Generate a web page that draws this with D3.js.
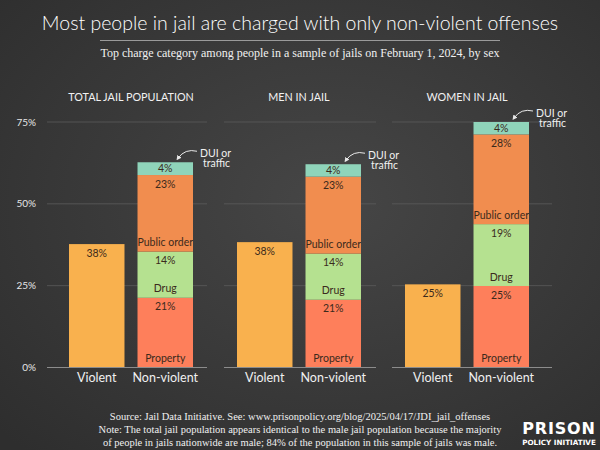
<!DOCTYPE html>
<html>
<head>
<meta charset="utf-8">
<script src="https://cdn.jsdelivr.net/npm/d3@7"></script>
<style>
html,body{margin:0;padding:0;background:#3a3a3a;}
svg{display:block;}
</style>
</head>
<body>
<svg id="chart" width="600" height="450"></svg>
<script>
// ---- data ----
const panels = ["TOTAL JAIL POPULATION", "MEN IN JAIL", "WOMEN IN JAIL"];
const barCategories = ["Violent", "Non-violent"];
const violent = [37.7, 38.3, 25.4];
const property = [21.3, 20.7, 24.9];
const drug = [14.1, 14.1, 18.9];
const publicOrder = [23.4, 23.5, 27.4];
const duiTraffic = [3.9, 3.8, 3.8];
const violentLabels = ["38%", "38%", "25%"];
const propertyLabels = ["21%", "21%", "25%"];
const drugLabels = ["14%", "14%", "19%"];
const publicOrderLabels = ["23%", "23%", "28%"];
const duiLabels = ["4%", "4%", "4%"];
const segmentNames = ["Property", "Drug", "Public order", ""];
const yTicks = [0, 25, 50, 75];

// ---- layout ----
const W = 600, H = 450;
const svg = d3.select("#chart");
const defs = svg.append("defs");
const grad = defs.append("radialGradient").attr("id", "bg")
  .attr("cx", "55%").attr("cy", "45%").attr("r", "75%");
grad.append("stop").attr("offset", "0%").attr("stop-color", "#464646");
grad.append("stop").attr("offset", "100%").attr("stop-color", "#2e2e2e");
svg.append("rect").attr("width", W).attr("height", H).attr("fill", "url(#bg)");

defs.append("marker").attr("id", "arrow").attr("viewBox", "0 0 10 10")
  .attr("refX", 5).attr("refY", 5).attr("markerWidth", 5).attr("markerHeight", 5)
  .attr("orient", "auto-start-reverse")
  .append("path").attr("d", "M0,0 L10,5 L0,10 z").attr("fill", "#e8e8e8");

const sans = "'Century Gothic','URW Gothic','Lato',sans-serif";
const serif = "'Liberation Serif','Times New Roman',serif";

// title
svg.append("text").attr("x", 300).attr("y", 30).attr("text-anchor", "middle")
  .attr("fill", "#ffffff").attr("font-family", sans).attr("font-weight", 300).attr("font-size", 19.5)
  .text("Most people in jail are charged with only non-violent offenses");
svg.append("line").attr("x1", 100).attr("x2", 500).attr("y1", 40.5).attr("y2", 40.5)
  .attr("stroke", "#9a9a9a").attr("stroke-width", 1);
svg.append("text").attr("x", 300).attr("y", 57).attr("text-anchor", "middle")
  .attr("fill", "#f0f0f0").attr("font-family", serif).attr("font-size", 12)
  .text("Top charge category among people in a sample of jails on February 1, 2024, by sex");

// scales
const y = d3.scaleLinear().domain([0, 75]).range([367.5, 122]);
const panelX = d3.scalePoint().domain(panels).range([69, 405]);
const x = d3.scaleBand().domain(barCategories).range([0, 124]).paddingInner(0.19).paddingOuter(0);
const gridExtent = [[-22, 138], [-13, 139], [-13, 147]];

// y tick labels
svg.append("g").selectAll("text").data(yTicks).join("text")
  .attr("x", 36).attr("y", d => y(d)).attr("dy", "0.35em").attr("text-anchor", "end")
  .attr("fill", "#e6e6e6").attr("font-family", sans).attr("font-size", 10)
  .text(d => d + "%");

const colors = {
  violent: "#F9B14E",
  property: "#FE7F5B",
  drug: "#B5E190",
  publicOrder: "#F18D4F",
  dui: "#8FD4BA"
};
const textDark = "#3b2a1c";

panels.forEach((p, i) => {
  const g = svg.append("g").attr("transform", `translate(${panelX(p)},0)`);
  // gridlines
  g.append("g").selectAll("line").data(yTicks.filter(t => t > 0)).join("line")
    .attr("x1", gridExtent[i][0]).attr("x2", gridExtent[i][1])
    .attr("y1", d => y(d)).attr("y2", d => y(d))
    .attr("stroke", "#5c5c5c").attr("stroke-width", 0.8);
  // header
  g.append("text").attr("x", 62).attr("y", 101).attr("text-anchor", "middle")
    .attr("fill", "#f2f2f2").attr("font-family", sans).attr("font-size", 10.8)
    .text(p);

  // violent bar
  const vx = x("Violent"), bw = x.bandwidth();
  g.append("rect").attr("x", vx).attr("width", bw)
    .attr("y", y(violent[i])).attr("height", y(0) - y(violent[i]))
    .attr("fill", colors.violent);
  g.append("text").attr("x", vx + bw / 2).attr("y", y(violent[i]) + 9).attr("dy", "0.35em")
    .attr("text-anchor", "middle").attr("fill", textDark).attr("font-family", sans).attr("font-size", 10.5)
    .text(violentLabels[i]);

  // stacked non-violent
  const segs = [
    {v: property[i], c: colors.property, lab: propertyLabels[i], name: segmentNames[0]},
    {v: drug[i], c: colors.drug, lab: drugLabels[i], name: segmentNames[1]},
    {v: publicOrder[i], c: colors.publicOrder, lab: publicOrderLabels[i], name: segmentNames[2]},
    {v: duiTraffic[i], c: colors.dui, lab: duiLabels[i], name: segmentNames[3]}
  ];
  let cum = 0;
  segs.forEach(s => { s.y0 = cum; cum += s.v; s.y1 = cum; });
  const nx = x("Non-violent");
  g.append("g").selectAll("rect").data(segs).join("rect")
    .attr("x", nx).attr("width", bw)
    .attr("y", d => y(d.y1)).attr("height", d => y(d.y0) - y(d.y1))
    .attr("fill", d => d.c);
  g.append("g").selectAll("text").data(segs).join("text")
    .attr("x", nx + bw / 2)
    .attr("y", (d, k) => k === 3 ? (y(d.y1) + y(d.y0)) / 2 : y(d.y1) + 9)
    .attr("dy", "0.35em").attr("text-anchor", "middle")
    .attr("fill", textDark).attr("font-family", sans).attr("font-size", 10.5)
    .text(d => d.lab);
  g.append("g").selectAll("text").data(segs.filter(s => s.name)).join("text")
    .attr("x", nx + bw / 2)
    .attr("y", d => y(d.y0) - 9)
    .attr("dy", "0.35em").attr("text-anchor", "middle")
    .attr("fill", textDark).attr("font-family", sans).attr("font-size", 10.5)
    .text(d => d.name);

  // baseline
  g.append("line").attr("x1", gridExtent[i][0]).attr("x2", gridExtent[i][1])
    .attr("y1", y(0)).attr("y2", y(0)).attr("stroke", "#8c8c8c").attr("stroke-width", 1);

  // x labels
  g.append("g").selectAll("text").data(barCategories).join("text")
    .attr("x", d => x(d) + bw / 2).attr("y", 382).attr("text-anchor", "middle")
    .attr("fill", "#f0f0f0").attr("font-family", sans).attr("font-size", 12.5)
    .text(d => d);

  // DUI annotation
  const bx = nx + bw, top = y(cum);
  g.append("path")
    .attr("d", `M${bx + 4},${top - 11} Q${bx - 8},${top - 14} ${bx - 15},${top - 4}`)
    .attr("fill", "none").attr("stroke", "#e8e8e8").attr("stroke-width", 1)
    .attr("marker-end", "url(#arrow)");
  const t = g.append("text").attr("x", bx + 7).attr("y", top - 9)
    .attr("fill", "#f0f0f0").attr("font-family", sans).attr("font-size", 10.5);
  t.append("tspan").attr("x", bx + 7).attr("dy", "0.35em").text("DUI or");
  t.append("tspan").attr("x", bx + 10).attr("dy", "1.0em").text("traffic");
});

// footer
const foot = [
  "Source: Jail Data Initiative. See: www.prisonpolicy.org/blog/2025/04/17/JDI_jail_offenses",
  "Note: The total jail population appears identical to the male jail population because the majority",
  "of  people in jails nationwide are male; 84% of the population in this sample of jails was male."
];
svg.append("g").selectAll("text").data(foot).join("text")
  .attr("x", 300).attr("y", (d, k) => 420 + k * 13).attr("text-anchor", "middle")
  .attr("fill", "#f0f0f0").attr("font-family", serif).attr("font-size", 10.5)
  .text(d => d);

// logo
svg.append("text").attr("x", 559).attr("y", 433.5).attr("text-anchor", "middle")
  .attr("fill", "#ffffff").attr("font-family", "'DejaVu Sans',sans-serif").attr("font-weight", "bold")
  .attr("font-size", 16).attr("letter-spacing", 0.8).text("PRISON");
svg.append("text").attr("x", 559).attr("y", 444.5).attr("text-anchor", "middle")
  .attr("fill", "#ffffff").attr("font-family", "'DejaVu Sans',sans-serif").attr("font-weight", "bold")
  .attr("font-size", 7.2).text("POLICY INITIATIVE");
</script>
</body>
</html>
